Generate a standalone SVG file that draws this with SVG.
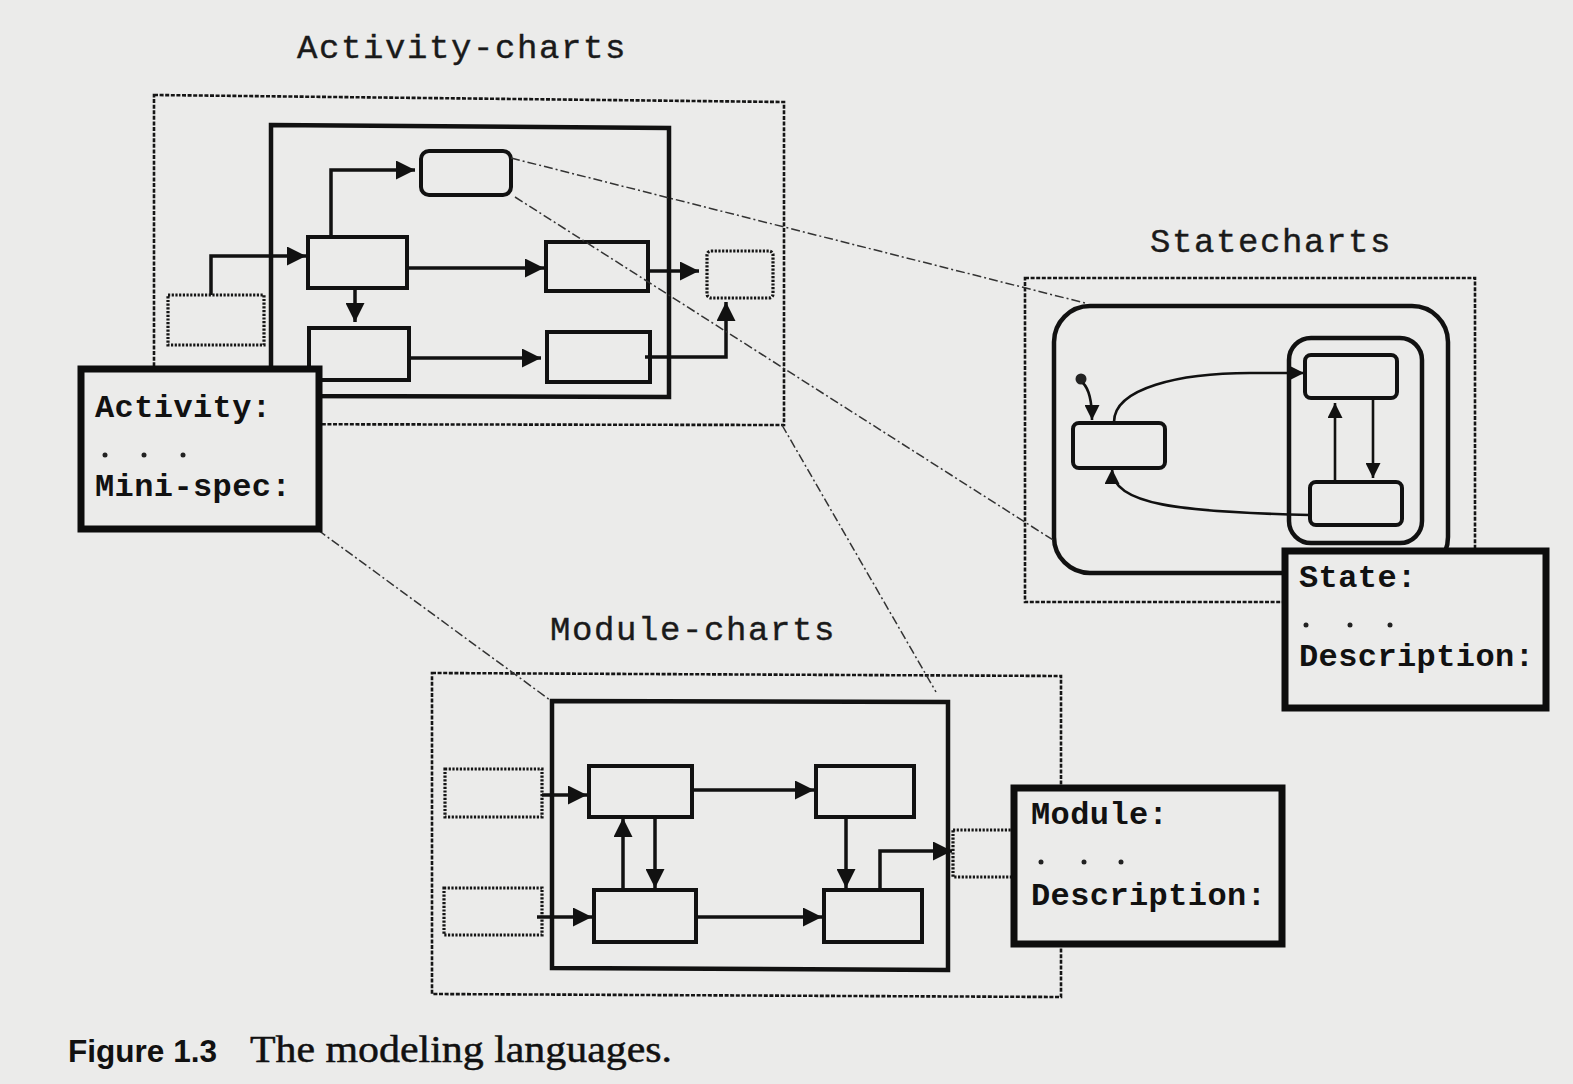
<svg xmlns="http://www.w3.org/2000/svg" width="1573" height="1084" viewBox="0 0 1573 1084">
  <defs>
    <marker id="arrow" viewBox="0 0 10 10" refX="10" refY="5" markerWidth="21" markerHeight="19" markerUnits="userSpaceOnUse" orient="auto">
      <path d="M0,0 L10,5 L0,10 z" fill="#111"/>
    </marker>
    <marker id="arrow-sm" viewBox="0 0 10 10" refX="10" refY="5" markerWidth="17" markerHeight="15" markerUnits="userSpaceOnUse" orient="auto">
      <path d="M0,0 L10,5 L0,10 z" fill="#111"/>
    </marker>
    <style>
      .bg { fill: #ebebea; }
      .title { font-family: "Liberation Mono", "Courier New", monospace; font-size: 34px; letter-spacing: 1.6px; fill: #1a1a1a; stroke: #1a1a1a; stroke-width: 0.4; }
      .label { font-family: "Liberation Mono", "Courier New", monospace; font-size: 32px; font-weight: bold; letter-spacing: 0.4px; fill: #111; }
      .frame { fill: none; stroke: #151515; stroke-width: 2.6; stroke-dasharray: 4 1.6; }
      .container { fill: none; stroke: #111; stroke-width: 4.5; }
      .box { fill: none; stroke: #111; stroke-width: 4; }
      .ext { fill: none; stroke: #151515; stroke-width: 3.2; stroke-dasharray: 2.2 1.5; }
      .flow { fill: none; stroke: #111; stroke-width: 3.5; marker-end: url(#arrow); }
      .trans { fill: none; stroke: #111; stroke-width: 2.6; marker-end: url(#arrow-sm); }
      .info { fill: #ebebea; stroke: #0d0d0d; stroke-width: 7; }
      .link { fill: none; stroke: #333; stroke-width: 1.5; stroke-dasharray: 9 3 2 3; }
      .dot { fill: #222; }
    </style>
  </defs>

  <rect class="bg" x="0" y="0" width="1573" height="1084"/>

  <!-- Activity-chart -->
  <g id="activity-chart">
    <text class="title" x="297" y="58">Activity-charts</text>
    <path class="frame" d="M154,95 L784,102 L784,425 L154,424 Z"/>
    <path class="container" d="M271,125 L669,128 L669,397 L271,396 Z"/>
    <rect class="box" x="421" y="151" width="90" height="44" rx="8"/>
    <rect class="box" x="308" y="237" width="99" height="51"/>
    <rect class="box" x="546" y="242" width="102" height="49"/>
    <rect class="box" x="309" y="328" width="100" height="52"/>
    <rect class="box" x="547" y="332" width="103" height="50"/>
    <rect class="ext" x="168" y="295" width="96" height="50"/>
    <rect class="ext" x="707" y="251" width="66" height="47" rx="4"/>
    <path class="flow" d="M211,295 L211,256 L306,256"/>
    <path class="flow" d="M331,237 L331,170 L415,170"/>
    <path class="flow" d="M407,268 L544,268"/>
    <path class="flow" d="M355,288 L355,322"/>
    <path class="flow" d="M648,271 L699,271"/>
    <path class="flow" d="M409,358 L541,358"/>
    <path class="flow" d="M645,357 L726,357 L726,302"/>
  </g>

  <!-- Statechart -->
  <g id="statechart">
    <text class="title" x="1150" y="252">Statecharts</text>
    <rect class="frame" x="1025" y="278" width="450" height="324"/>
    <rect class="container" x="1054" y="306" width="394" height="267" rx="36"/>
    <rect class="container" x="1289" y="338" width="133" height="205" rx="22"/>
    <rect class="box" x="1073" y="423" width="92" height="45" rx="6"/>
    <rect class="box" x="1305" y="355" width="92" height="43" rx="6"/>
    <rect class="box" x="1310" y="482" width="92" height="43" rx="6"/>
    <circle class="dot" cx="1081" cy="379" r="5.5"/>
    <path class="trans" d="M1083,383 Q1092,392 1092,420"/>
    <path class="trans" d="M1114,422 C1114,388 1180,373 1250,373 L1304,373"/>
    <path class="trans" d="M1335,482 L1335,403"/>
    <path class="trans" d="M1373,398 L1373,478"/>
    <path class="trans" d="M1310,515 C1180,512 1112,505 1112,469"/>
  </g>

  <!-- Module-chart -->
  <g id="module-chart">
    <text class="title" x="550" y="640">Module-charts</text>
    <path class="frame" d="M432,673 L1061,676 L1061,997 L432,994 Z"/>
    <path class="container" d="M552,701 L948,702 L948,970 L552,968 Z"/>
    <rect class="box" x="589" y="766" width="103" height="51"/>
    <rect class="box" x="816" y="766" width="98" height="51"/>
    <rect class="box" x="594" y="890" width="102" height="52"/>
    <rect class="box" x="824" y="890" width="98" height="52"/>
    <rect class="ext" x="445" y="769" width="97" height="48"/>
    <rect class="ext" x="444" y="888" width="98" height="47"/>
    <rect class="ext" x="953" y="830" width="80" height="47"/>
    <path class="flow" d="M542,795 L587,795"/>
    <path class="flow" d="M537,917 L592,917"/>
    <path class="flow" d="M692,790 L814,790"/>
    <path class="flow" d="M696,917 L822,917"/>
    <path class="flow" d="M623,890 L623,818"/>
    <path class="flow" d="M655,817 L655,888"/>
    <path class="flow" d="M846,817 L846,888"/>
    <path class="flow" d="M880,890 L880,851 L952,851"/>
  </g>

  <!-- dash-dot links from chart elements to their counterparts -->
  <g id="connectors">
    <path class="link" d="M511,158 L1085,303"/>
    <path class="link" d="M515,197 L1053,540"/>
    <path class="link" d="M318,530 L550,700"/>
    <path class="link" d="M782,425 L936,692"/>
  </g>

  <!-- property forms -->
  <g id="activity-info">
    <rect class="info" x="81" y="369" width="238" height="160"/>
    <text class="label" x="95" y="417">Activity:</text>
    <circle class="dot" cx="105" cy="455" r="2.5"/>
    <circle class="dot" cx="144" cy="455" r="2.5"/>
    <circle class="dot" cx="183" cy="455" r="2.5"/>
    <text class="label" x="95" y="496">Mini-spec:</text>
  </g>

  <g id="state-info">
    <rect class="info" x="1285" y="551" width="261" height="157"/>
    <text class="label" x="1299" y="587">State:</text>
    <circle class="dot" cx="1306" cy="625" r="2.5"/>
    <circle class="dot" cx="1350" cy="625" r="2.5"/>
    <circle class="dot" cx="1390" cy="625" r="2.5"/>
    <text class="label" x="1299" y="666">Description:</text>
  </g>

  <g id="module-info">
    <rect class="info" x="1014" y="788" width="268" height="156"/>
    <text class="label" x="1031" y="824">Module:</text>
    <circle class="dot" cx="1041" cy="862" r="2.5"/>
    <circle class="dot" cx="1084" cy="862" r="2.5"/>
    <circle class="dot" cx="1121" cy="862" r="2.5"/>
    <text class="label" x="1031" y="905">Description:</text>
  </g>

  <!-- caption -->
  <g id="caption">
    <text x="68" y="1062" font-family="Liberation Sans, Arial, sans-serif" font-weight="bold" font-size="31" textLength="149" lengthAdjust="spacingAndGlyphs" fill="#111">Figure 1.3</text>
    <text x="250" y="1062" font-family="Liberation Serif, Times New Roman, serif" font-size="38" textLength="422" lengthAdjust="spacingAndGlyphs" fill="#111" stroke="#111" stroke-width="0.5">The modeling languages.</text>
  </g>
</svg>
